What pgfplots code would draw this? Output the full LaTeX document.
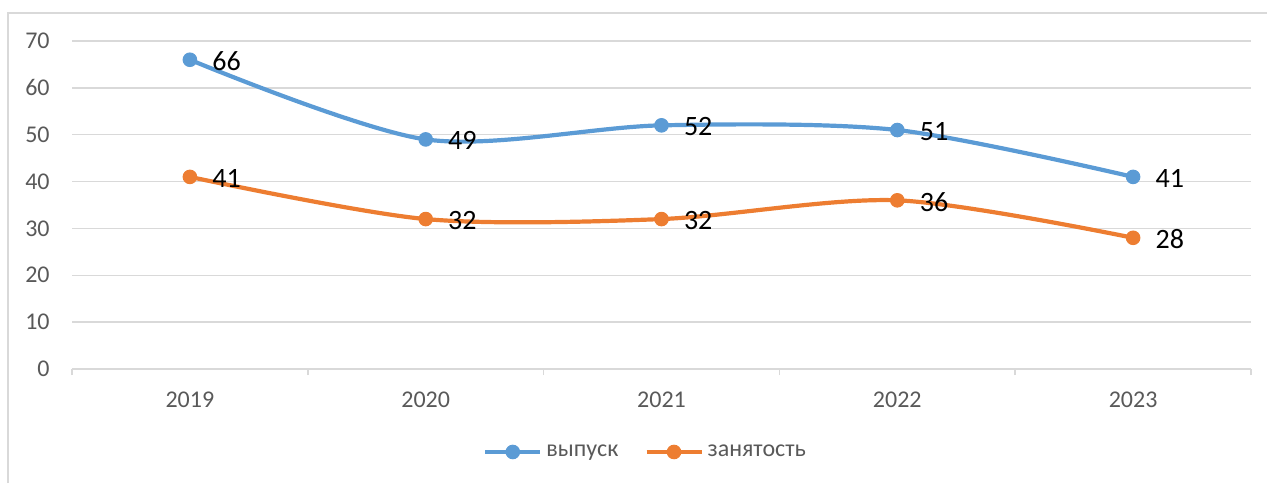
\documentclass[border=0pt]{standalone}
\usepackage{pgfplots}
\pgfplotsset{compat=1.18}
\usepackage{fontspec}
\setmainfont{Carlito}
\definecolor{cblue}{HTML}{5B9BD5}
\definecolor{corange}{HTML}{ED7D31}
\definecolor{cgrid}{HTML}{D9D9D9}
\definecolor{ctext}{HTML}{595959}
\begin{document}
\begin{tikzpicture}
\path[use as bounding box] (0,0) rectangle (633.5pt,241.5pt);
\draw[cgrid, line width=0.75pt] (4pt,0) -- (4pt,235pt) -- (633.5pt,235pt);
\begin{axis}[
  at={(36pt,57pt)}, anchor=south west,
  scale only axis, width=589.5pt, height=164pt,
  xmin=-0.5, xmax=4.5, ymin=0, ymax=70,
  xtick={0,1,2,3,4}, xticklabels={2019,2020,2021,2022,2023},
  minor xtick={-0.5,0.5,1.5,2.5,3.5,4.5},
  ytick={0,10,...,70},
  major tick length=0pt, minor tick length=3pt,
  tick align=outside,
  tick style={cgrid, line width=0.75pt},
  axis x line*=bottom, axis y line*=left,
  x axis line style={cgrid, line width=0.75pt, -},
  y axis line style={draw=none},
  ymajorgrids, grid style={cgrid, line width=0.75pt},
  /pgf/number format/assume math mode=true,
  xticklabel style={font=\fontsize{12}{14}\selectfont, text=ctext, anchor=base, inner sep=0pt, yshift=-19.2pt},
  yticklabel style={font=\fontsize{12}{14}\selectfont, text=ctext, anchor=east, inner sep=0pt, xshift=-11pt},
  nodes near coords,
  nodes near coords style={font=\fontsize{14}{16}\selectfont, text=black, anchor=west, inner sep=0pt, xshift=11pt, yshift=-0.75pt},
  legend style={at={(0.4873,-0.253)}, anchor=center, draw=none, fill=none,
    font=\fontsize{12}{14}\selectfont, text=ctext,
    /tikz/every even column/.append style={column sep=11pt}},
  legend columns=-1,
  legend image code/.code={\draw[#1, mark repeat=2, mark phase=2] plot coordinates {(0pt,0pt) (13.75pt,0pt) (27.5pt,0pt)};},
]
\addplot[cblue, line width=2.1pt, smooth, mark=*, mark size=3.4pt, mark options={solid, fill=cblue, draw=cblue, line width=0.5pt}]
  coordinates {(0,66) (1,49) (2,52) (3,51) (4,41)};
\addlegendentry{выпуск}
\addplot[corange, line width=2.1pt, smooth, mark=*, mark size=3.4pt, mark options={solid, fill=corange, draw=corange, line width=0.5pt}]
  coordinates {(0,41) (1,32) (2,32) (3,36) (4,28)};
\addlegendentry{занятость}
\end{axis}
\end{tikzpicture}
\end{document}
